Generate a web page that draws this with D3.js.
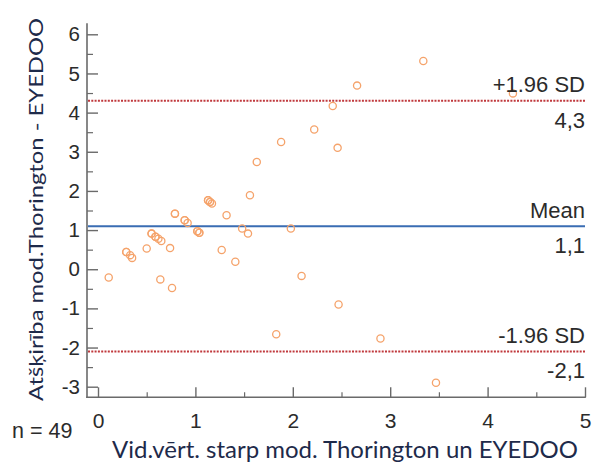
<!DOCTYPE html>
<html>
<head>
<meta charset="utf-8">
<script src="https://cdn.jsdelivr.net/npm/d3@7/dist/d3.min.js"></script>
<style>
  html, body { margin: 0; padding: 0; background: #fff; }
  svg { display: block; }
</style>
</head>
<body>
<svg id="chart" width="592" height="466"></svg>
<script>
// Bland–Altman plot: mean of the two methods vs. their difference
const meanVals = [0.11, 0.29, 0.33, 0.35, 0.50, 0.55, 0.59, 0.62, 0.65, 0.64,
                  0.74, 0.76, 0.79, 0.89, 0.92, 1.02, 1.04, 1.13, 1.15, 1.17,
                  1.27, 1.32, 1.41, 1.48, 1.54, 1.56, 1.63, 1.83, 1.88, 1.98,
                  2.09, 2.22, 2.41, 2.46, 2.47, 2.66, 2.90, 3.34, 3.47, 4.26,
                  0.29, 0.55, 0.79, 1.02, 1.13, 1.15, 0.89, 1.04, 0.59];
const diffVals = [-0.21, 0.44, 0.36, 0.29, 0.53, 0.91, 0.83, 0.78, 0.72, -0.26,
                  0.54, -0.48, 1.42, 1.25, 1.18, 0.97, 0.93, 1.76, 1.72, 1.68,
                  0.49, 1.38, 0.19, 1.04, 0.91, 1.89, 2.74, -1.66, 3.25, 1.04,
                  -0.17, 3.57, 4.17, 3.10, -0.90, 4.69, -1.77, 5.32, -2.90, 4.49,
                  0.44, 0.91, 1.42, 0.97, 1.76, 1.72, 1.25, 0.93, 0.83];

const xTicks = [0, 1, 2, 3, 4, 5];
const xMinorTicks = [0.5, 1.5, 2.5, 3.5, 4.5];
const yTicks = [-3, -2, -1, 0, 1, 2, 3, 4, 5, 6];
const yMinorTicks = [-2.5, -1.5, -0.5, 0.5, 1.5, 2.5, 3.5, 4.5, 5.5];

// reference lines: name shown above, value shown below
const refNames  = ["+1.96 SD", "Mean", "-1.96 SD"];
const refValues = [4.3, 1.1, -2.1];
const refLabels = ["4,3", "1,1", "-2,1"];
const refKinds  = ["limit", "mean", "limit"];

const sampleSize = 49;
const xTitle = "Vid.vērt. starp mod. Thorington un EYEDOO";
const yTitle = "Atšķirība mod.Thorington - EYEDOO";

const svg = d3.select("#chart");
const axisX0 = 87;      // x of the vertical axis line
const axisY0 = 397.3;   // y of the horizontal axis line

const x = d3.scaleLinear().domain([0, 5]).range([98, 585]);
const y = d3.scaleLinear().domain([-3, 6]).range([386.7, 34.3]);

const numFont = "'Liberation Sans', Arial, sans-serif";
const titleFont = "Lato, 'Open Sans', sans-serif";
const axisColor = "#6a6a6a";
const textColor = "#2b2b2b";
const intLabel = d => String(d);   // plain hyphen for negatives

// axis lines
svg.append("line")
  .attr("x1", axisX0).attr("x2", axisX0)
  .attr("y1", y(6.28)).attr("y2", axisY0 + 0.75)
  .attr("stroke", axisColor).attr("stroke-width", 1.6);
svg.append("line")
  .attr("x1", axisX0 - 0.75).attr("x2", x(5) + 0.8)
  .attr("y1", axisY0).attr("y2", axisY0)
  .attr("stroke", axisColor).attr("stroke-width", 1.6);

// y axis (ticks point inward)
const gy = svg.append("g").attr("transform", `translate(${axisX0},0)`)
  .call(d3.axisLeft(y).tickValues(yTicks).tickSize(-11).tickSizeOuter(0)
        .tickPadding(7).tickFormat(intLabel));
gy.select(".domain").remove();
gy.selectAll(".tick line").attr("stroke", axisColor).attr("stroke-width", 1.4);
gy.selectAll(".tick text").attr("font-family", numFont).attr("font-size", 20.5)
  .attr("fill", textColor);

const gyMinor = svg.append("g").attr("transform", `translate(${axisX0},0)`)
  .call(d3.axisLeft(y).tickValues(yMinorTicks).tickSize(-6).tickFormat(""));
gyMinor.select(".domain").remove();
gyMinor.selectAll(".tick line").attr("stroke", axisColor).attr("stroke-width", 1.2);

// x axis (ticks point inward)
const gx = svg.append("g").attr("transform", `translate(0,${axisY0})`)
  .call(d3.axisBottom(x).tickValues(xTicks).tickSize(-10).tickSizeOuter(0)
        .tickPadding(16).tickFormat(intLabel));
gx.select(".domain").remove();
gx.selectAll(".tick line").attr("stroke", axisColor).attr("stroke-width", 1.4);
gx.selectAll(".tick text").attr("font-family", numFont).attr("font-size", 21)
  .attr("fill", textColor);

const gxMinor = svg.append("g").attr("transform", `translate(0,${axisY0})`)
  .call(d3.axisBottom(x).tickValues(xMinorTicks).tickSize(-5).tickFormat(""));
gxMinor.select(".domain").remove();
gxMinor.selectAll(".tick line").attr("stroke", axisColor).attr("stroke-width", 1.2);

// reference lines
const refs = refValues.map((v, i) => ({ v, name: refNames[i], label: refLabels[i], kind: refKinds[i] }));
svg.append("g").selectAll("line").data(refs).join("line")
  .attr("x1", axisX0 + 1).attr("x2", x(5))
  .attr("y1", d => y(d.v)).attr("y2", d => y(d.v))
  .attr("stroke", d => d.kind === "mean" ? "#3a6db3" : "#c0393d")
  .attr("stroke-width", 2)
  .attr("stroke-dasharray", d => d.kind === "mean" ? null : "2,1.3");

// data points
svg.append("g").selectAll("circle").data(meanVals.map((m, i) => [m, diffVals[i]])).join("circle")
  .attr("cx", d => x(d[0])).attr("cy", d => y(d[1]))
  .attr("r", 3.6)
  .attr("fill", "none")
  .attr("stroke", "#f5a36b")
  .attr("stroke-width", 1.3);

// reference line captions
const cap = svg.append("g").attr("font-family", numFont).attr("font-size", 22)
  .attr("fill", textColor).attr("text-anchor", "end");
cap.selectAll("text.name").data(refs).join("text").attr("class", "name")
  .attr("x", x(5)).attr("y", d => y(d.v) - 8.5).text(d => d.name);
cap.selectAll("text.val").data(refs).join("text").attr("class", "val")
  .attr("x", x(5)).attr("y", d => y(d.v) + 27).text(d => d.label);

// sample size
svg.append("text").attr("x", 12).attr("y", 438)
  .attr("font-family", numFont).attr("font-size", 21.5).attr("fill", textColor)
  .text("n = " + sampleSize);

// axis titles
svg.append("text")
  .attr("x", 345).attr("y", 458)
  .attr("text-anchor", "middle")
  .attr("font-family", titleFont).attr("font-size", 23)
  .attr("fill", "#1e2a4a")
  .attr("textLength", 466).attr("lengthAdjust", "spacingAndGlyphs")
  .text(xTitle);

svg.append("text")
  .attr("transform", "translate(43,209.5) rotate(-90)")
  .attr("text-anchor", "middle")
  .attr("font-family", titleFont).attr("font-size", 20)
  .attr("fill", "#1e2a4a")
  .attr("textLength", 383).attr("lengthAdjust", "spacingAndGlyphs")
  .text(yTitle);
</script>
</body>
</html>
